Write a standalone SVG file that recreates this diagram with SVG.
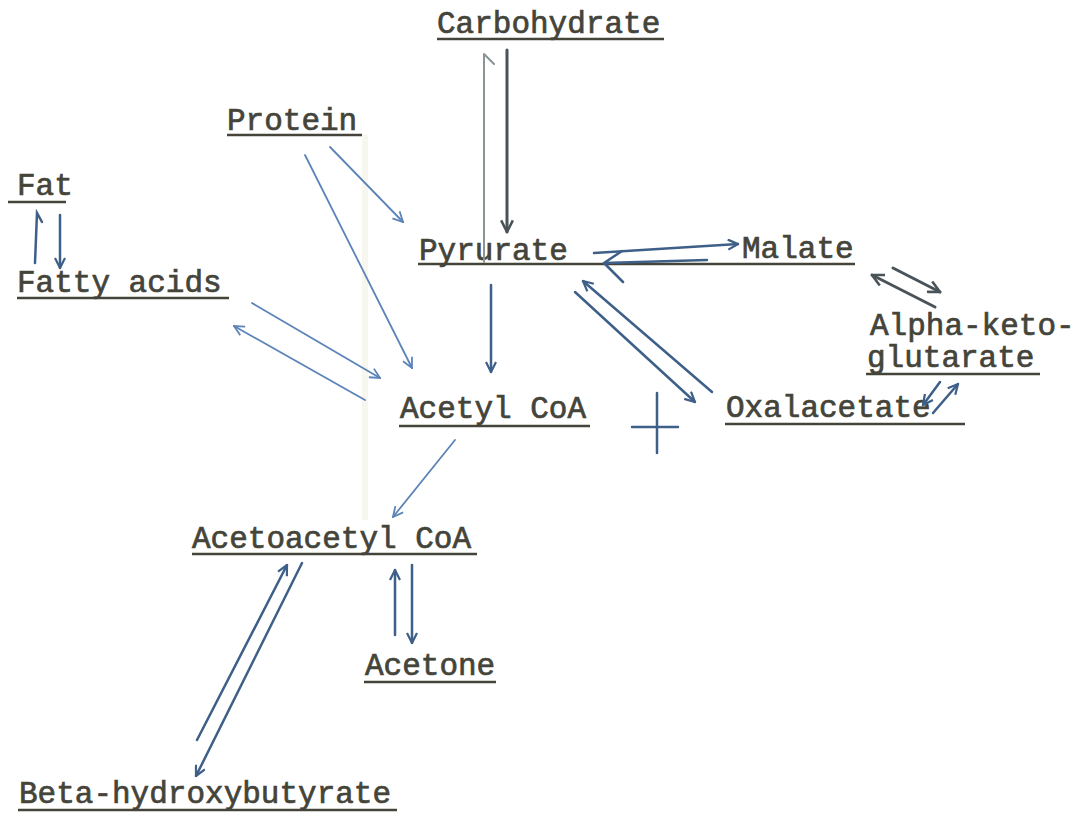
<svg xmlns="http://www.w3.org/2000/svg" width="1089" height="816" viewBox="0 0 1089 816">
<defs>
<style>
.t{font-family:"Liberation Mono","Courier New",monospace;font-size:31px;fill:#44443a;stroke:#44443a;stroke-width:0.7}
.u{stroke:#44443a;stroke-width:2.5;fill:none}
.c{fill:none;stroke-linecap:round}
.b{stroke:#3e5f88;stroke-width:2.5}
.l{stroke:#5c84b8;stroke-width:1.8}
.d{stroke:#4a5358;stroke-width:3}
.g{stroke:#8a9494;stroke-width:2}
</style>
<marker id="mb" viewBox="0 0 12 12" refX="11" refY="6" markerWidth="12" markerHeight="12" markerUnits="userSpaceOnUse" orient="auto"><path d="M1,1 L11,6 L1,11" fill="none" stroke="#3e5f88" stroke-width="2.2"/></marker>
<marker id="ml" viewBox="0 0 12 12" refX="11" refY="6" markerWidth="12" markerHeight="12" markerUnits="userSpaceOnUse" orient="auto"><path d="M1,1 L11,6 L1,11" fill="none" stroke="#5c84b8" stroke-width="1.8"/></marker>
<marker id="md" viewBox="0 0 12 12" refX="11" refY="6" markerWidth="14" markerHeight="14" markerUnits="userSpaceOnUse" orient="auto"><path d="M1,1 L11,6 L1,11" fill="none" stroke="#4a5358" stroke-width="2.2"/></marker>
</defs>
<rect width="1089" height="816" fill="#ffffff"/>
<rect x="362" y="135" width="6" height="385" fill="#eeeadc" opacity="0.45"/>

<g id="carbohydrate"><text class="t" x="437" y="33">Carbohydrate</text><line class="u" x1="437" y1="39" x2="664" y2="39"/></g>
<g id="protein"><text class="t" x="227" y="130">Protein</text><line class="u" x1="227" y1="135" x2="362" y2="135"/></g>
<g id="fat"><text class="t" x="17" y="195">Fat</text><line class="u" x1="8" y1="202" x2="66" y2="202"/></g>
<g id="fatty-acids"><text class="t" x="17" y="292">Fatty acids</text><line class="u" x1="17" y1="298" x2="229" y2="298"/></g>
<g id="pyrurate"><text class="t" x="419" y="260">Pyrurate</text><line class="u" x1="418" y1="264" x2="855" y2="264"/></g>
<g id="malate"><text class="t" x="742" y="258">Malate</text></g>
<g id="alpha-ketoglutarate"><text class="t" x="870" y="335">Alpha-keto-</text><text class="t" x="867" y="367">glutarate</text><line class="u" x1="866" y1="374" x2="1040" y2="374"/></g>
<g id="oxalacetate"><text class="t" x="726" y="417">Oxalacetate</text><line class="u" x1="725" y1="424" x2="965" y2="424"/></g>
<g id="acetyl-coa"><text class="t" x="400" y="418">Acetyl CoA</text><line class="u" x1="399" y1="426" x2="590" y2="426"/></g>
<g id="acetoacetyl-coa"><text class="t" x="192" y="548">Acetoacetyl CoA</text><line class="u" x1="192" y1="554" x2="477" y2="554"/></g>
<g id="acetone"><text class="t" x="365" y="675">Acetone</text><line class="u" x1="364" y1="682" x2="496" y2="682"/></g>
<g id="beta-hydroxybutyrate"><text class="t" x="19" y="803">Beta-hydroxybutyrate</text><line class="u" x1="18" y1="810" x2="397" y2="810"/></g>

<g id="connectors">
<path class="c g" d="M484,262 L484,54 M484,54 L494,64"/>
<path class="c d" d="M507,50 L507,232" marker-end="url(#md)"/>
<path class="c l" d="M330,147 L403,222" marker-end="url(#ml)"/>
<path class="c l" d="M305,155 L412,368" marker-end="url(#ml)"/>
<path class="c b" d="M35,263 L37,213 L42,222" stroke-width="1.8"/>
<path class="c b" d="M60,215 L60,268" marker-end="url(#mb)"/>
<path class="c l" d="M252,303 L380,378" marker-end="url(#ml)"/>
<path class="c l" d="M365,400 L234,326" marker-end="url(#ml)"/>
<path class="c b" d="M491,285 L491,372" marker-end="url(#mb)"/>
<path class="c b" d="M594,253 L738,244" marker-end="url(#mb)" stroke-width="3"/>
<path class="c b" d="M707,260 L604,263 M604,263 L622,251 M604,263 L623,282" stroke-width="3"/>
<path class="c b" d="M575,292 L695,402" marker-end="url(#mb)"/>
<path class="c b" d="M712,392 L583,281" marker-end="url(#mb)"/>
<path class="c b" d="M657,393 L657,453 M632,427 L678,427" stroke-width="4"/>
<path class="c d" d="M935,307 L872,275" marker-end="url(#md)"/>
<path class="c d" d="M893,268 L940,292" marker-end="url(#md)"/>
<path class="c b" d="M940,382 L923,405" marker-end="url(#mb)"/>
<path class="c b" d="M933,413 L958,384" marker-end="url(#mb)" stroke-width="4"/>
<path class="c l" d="M455,440 L393,517" marker-end="url(#ml)"/>
<path class="c b" d="M197,740 L287,565" marker-end="url(#mb)" stroke-width="2"/>
<path class="c b" d="M302,563 L196,776" marker-end="url(#mb)" stroke-width="2"/>
<path class="c b" d="M395,635 L395,570" marker-end="url(#mb)" stroke-width="3"/>
<path class="c b" d="M412,565 L412,643" marker-end="url(#mb)" stroke-width="3"/>
</g>
</svg>
